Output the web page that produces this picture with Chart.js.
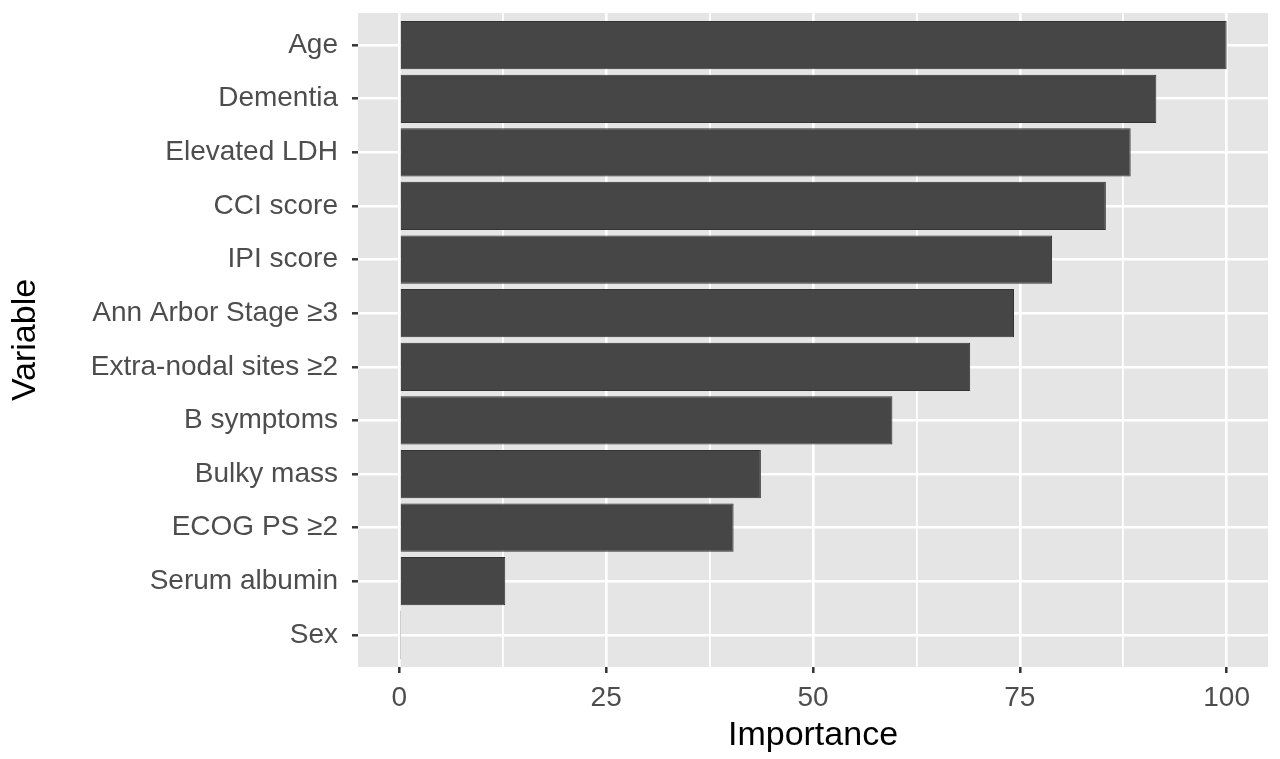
<!DOCTYPE html>
<html>
<head>
<meta charset="utf-8">
<script src="https://cdn.jsdelivr.net/npm/chart.js@4/dist/chart.umd.min.js"></script>
<style>
  html, body { margin: 0; padding: 0; background: #fff; }
  #wrap { width: 1280px; height: 759px; }
</style>
</head>
<body>
<div id="wrap"><canvas id="chart" width="1280" height="759"></canvas></div>
<script>
// Variables, top to bottom
const categories = [
    'Age', 'Dementia', 'Elevated LDH', 'CCI score', 'IPI score',
    'Ann Arbor Stage ≥3', 'Extra-nodal sites ≥2', 'B symptoms',
    'Bulky mass', 'ECOG PS ≥2', 'Serum albumin', 'Sex'
];
const importance = [100, 91.5, 88.4, 85.4, 78.9, 74.3, 69.0, 59.6, 43.7, 40.4, 12.8, 0.1];

// x axis: labelled every 25, minor grid every 12.5
const xTicks = [0, 12.5, 25, 37.5, 50, 62.5, 75, 87.5, 100];
const xLabels = ['0', '', '25', '', '50', '', '75', '', '100'];

const FONT = "'Liberation Sans', Arial, Helvetica, sans-serif";

// grey panel behind the plot like ggplot's theme_gray
const panelBg = {
    id: 'panelBg',
    beforeDraw(chart) {
        const { ctx, chartArea: a } = chart;
        ctx.save();
        ctx.fillStyle = '#e5e5e5';
        ctx.fillRect(a.left, a.top, a.right - a.left, a.bottom - a.top);
        ctx.restore();
    }
};

const positions = categories.map((c, i) => i + 1);

new Chart(document.getElementById('chart'), {
    type: 'bar',
    data: {
        datasets: [{
            data: importance.map((v, i) => ({ x: v, y: positions[i] })),
            backgroundColor: '#464646',
            borderColor: '#333333',
            borderWidth: 1,
            categoryPercentage: 1,
            barPercentage: 0.9
        }]
    },
    options: {
        indexAxis: 'y',
        responsive: false,
        animation: false,
        devicePixelRatio: 1,
        layout: { padding: { top: 13, right: 12, left: 0, bottom: 0 } },
        plugins: {
            legend: { display: false },
            tooltip: { enabled: false }
        },
        scales: {
            x: {
                type: 'linear',
                min: -5,
                max: 105,
                offset: false,
                afterBuildTicks: (scale) => { scale.ticks = xTicks.map(v => ({ value: v })); },
                afterFit: (scale) => {
                    scale.height = 92;
                    scale.paddingLeft = 0;
                    scale.paddingRight = 0;
                },
                border: { display: false },
                grid: {
                    offset: false,
                    color: '#ffffff',
                    lineWidth: (c) => (c.tick && c.tick.value % 25 === 0) ? 2.6 : 1.8,
                    drawTicks: true,
                    tickLength: 6,
                    tickWidth: 2.5,
                    tickColor: (c) => (c.tick && c.tick.value % 25 === 0) ? '#333333' : 'rgba(0,0,0,0)'
                },
                ticks: {
                    autoSkip: false,
                    maxRotation: 0,
                    padding: 8,
                    color: '#4d4d4d',
                    font: { family: FONT, size: 28 },
                    callback: (v) => xLabels[xTicks.indexOf(v)]
                },
                title: {
                    display: true,
                    text: 'Importance',
                    color: '#000000',
                    font: { family: FONT, size: 34 },
                    padding: { top: 0, bottom: 3 }
                }
            },
            y: {
                type: 'linear',
                min: 0.4,
                max: 12.6,
                reverse: true,
                offset: false,
                afterBuildTicks: (scale) => { scale.ticks = positions.map(v => ({ value: v })); },
                afterFit: (scale) => {
                    scale.width = 358;
                    scale.paddingTop = 0;
                    scale.paddingBottom = 0;
                },
                border: { display: false },
                grid: {
                    offset: false,
                    color: '#ffffff',
                    lineWidth: 2.6,
                    drawTicks: true,
                    tickLength: 6,
                    tickWidth: 2.5,
                    tickColor: '#333333'
                },
                ticks: {
                    autoSkip: false,
                    padding: 14,
                    color: '#4d4d4d',
                    font: { family: FONT, size: 28 },
                    callback: (v) => categories[v - 1]
                },
                title: {
                    display: true,
                    text: 'Variable',
                    color: '#000000',
                    font: { family: FONT, size: 34 },
                    padding: { top: 5, bottom: 0 }
                }
            }
        }
    },
    plugins: [panelBg]
});
</script>
</body>
</html>
